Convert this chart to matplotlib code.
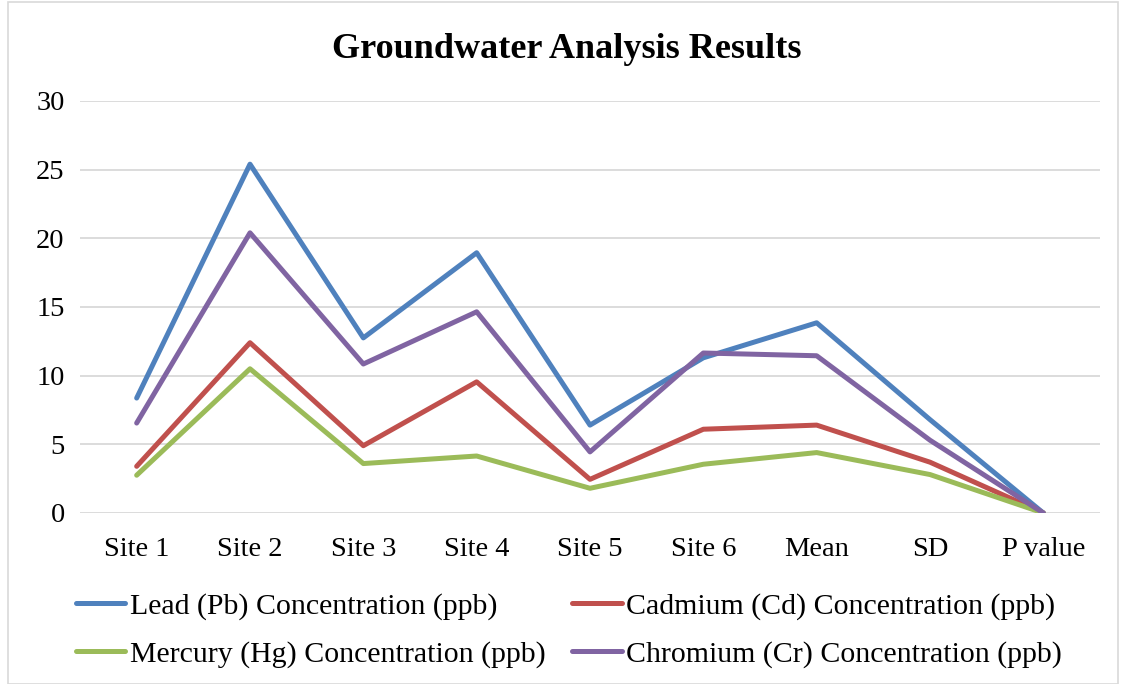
import matplotlib
matplotlib.use("Agg")
import matplotlib.pyplot as plt
from matplotlib.patches import Rectangle

categories = ["Site 1", "Site 2", "Site 3", "Site 4", "Site 5", "Site 6", "Mean", "SD", "P value"]
lead = [8.37, 25.4, 12.75, 18.95, 6.4, 11.3, 13.85, 6.8, 0.0]
cadmium = [3.4, 12.4, 4.9, 9.55, 2.45, 6.1, 6.4, 3.7, 0.0]
mercury = [2.75, 10.5, 3.6, 4.15, 1.8, 3.55, 4.4, 2.8, 0.0]
chromium = [6.55, 20.4, 10.85, 14.65, 4.45, 11.65, 11.45, 5.3, 0.0]

series = [
    ("Lead (Pb) Concentration (ppb)", lead, "#4F81BD"),
    ("Cadmium (Cd) Concentration (ppb)", cadmium, "#C0504D"),
    ("Mercury (Hg) Concentration (ppb)", mercury, "#9BBB59"),
    ("Chromium (Cr) Concentration (ppb)", chromium, "#8064A2"),
]

plt.rcParams['font.family'] = ['Liberation Serif', 'DejaVu Serif']

fig = plt.figure(figsize=(11.24, 6.84), dpi=100)
ax = fig.add_axes([80 / 1124, 1 - 513 / 684, 1020 / 1124, 412 / 684])

x = list(range(len(categories)))
lines = []
for name, vals, col in series:
    ln, = ax.plot(x, vals, color=col, linewidth=3.6, label=name, solid_capstyle='round')
    lines.append(ln)

ax.set_xlim(-0.5, len(categories) - 0.5)
ax.set_ylim(0, 30)
ax.set_yticks(range(0, 31, 5))
ax.set_xticks(x)
ax.set_xticklabels(categories)
ax.tick_params(axis='both', length=0, labelsize=20.5, colors='black')
ax.tick_params(axis='x', pad=17)
ax.tick_params(axis='y', pad=11)
ax.grid(axis='y', color='#D9D9D9', linewidth=1.3)
ax.set_axisbelow(True)
for s in ax.spines.values():
    s.set_visible(False)

fig.text(567 / 1124, 1 - 49 / 684, "Groundwater Analysis Results",
         ha='center', va='center', fontsize=26, fontweight='bold')

# row-wise legend order: Lead, Cadmium / Mercury, Chromium
order = [0, 2, 1, 3]
leg = fig.legend([lines[i] for i in order], [series[i][0] for i in order],
                 loc='center', bbox_to_anchor=(569 / 1124, 1 - 630 / 684), ncol=2,
                 frameon=False, fontsize=21.5, handlelength=1.65, handletextpad=0.15,
                 columnspacing=0.9, labelspacing=0.7, borderpad=0)

fig.patches.append(Rectangle((8 / 1124, 0), 1110 / 1124, 1 - 2 / 684, transform=fig.transFigure,
                             fill=False, edgecolor='#D9D9D9', linewidth=1.2))

fig.savefig("out.png", dpi=100)
